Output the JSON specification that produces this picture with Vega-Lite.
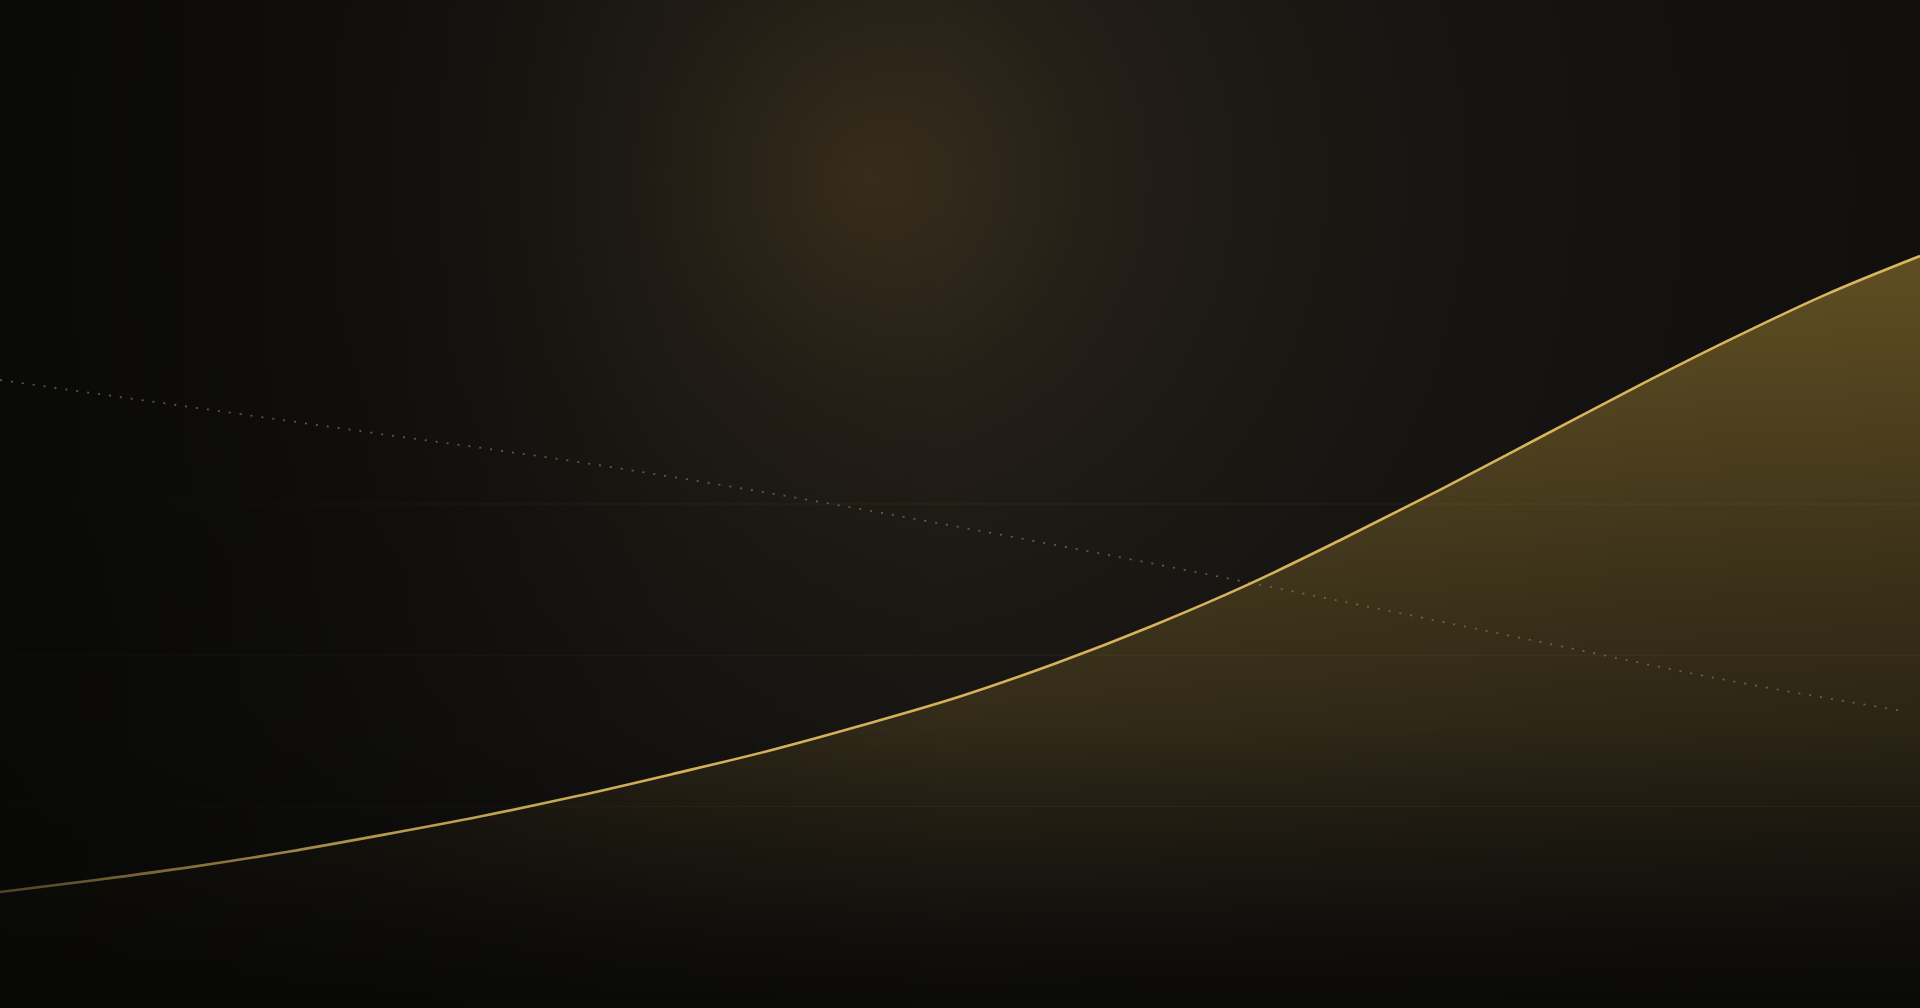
{
  "$schema": "https://vega.github.io/schema/vega-lite/v6.json",
  "width": 1920,
  "height": 1008,
  "autosize": {"type": "none"},
  "padding": 0,
  "background": "#0a0908",
  "config": {"view": {"stroke": null}},
  "datasets": {
    "trend": [
      {"t": 0, "v": 11.5},
      {"t": 5, "v": 12.7},
      {"t": 10, "v": 14.0},
      {"t": 15, "v": 15.5},
      {"t": 20, "v": 17.2},
      {"t": 25, "v": 19.0},
      {"t": 30, "v": 21.0},
      {"t": 35, "v": 23.2},
      {"t": 40, "v": 25.5},
      {"t": 45, "v": 28.1},
      {"t": 50, "v": 30.9},
      {"t": 55, "v": 34.2},
      {"t": 60, "v": 37.9},
      {"t": 65, "v": 42.0},
      {"t": 70, "v": 46.6},
      {"t": 75, "v": 51.4},
      {"t": 80, "v": 56.4},
      {"t": 85, "v": 61.4},
      {"t": 90, "v": 66.2},
      {"t": 95, "v": 70.7},
      {"t": 100, "v": 74.6}
    ],
    "baseline": [
      {"t": 0, "v": 62.3},
      {"t": 10, "v": 59.6},
      {"t": 20, "v": 56.9},
      {"t": 30, "v": 54.2},
      {"t": 40, "v": 51.1},
      {"t": 50, "v": 47.7},
      {"t": 60, "v": 44.1},
      {"t": 70, "v": 40.3},
      {"t": 80, "v": 36.4},
      {"t": 90, "v": 32.5},
      {"t": 99, "v": 29.5}
    ],
    "grid": [
      {"v": 20},
      {"v": 35},
      {"v": 50}
    ],
    "shade": [
      {"name": "backdrop"}
    ]
  },
  "layer": [
    {
      "data": {"name": "shade"},
      "mark": {
        "type": "rect",
        "fill": {
          "gradient": "radial",
          "x1": 0.4516, "y1": 0.33, "r1": 0,
          "x2": 0.4516, "y2": 0.33, "r2": 1,
          "stops": [
            {"offset": 0, "color": "#392e1c"},
            {"offset": 0.05, "color": "#30281a"},
            {"offset": 0.12, "color": "#241f17"},
            {"offset": 0.2, "color": "#1d1914"},
            {"offset": 0.3, "color": "#171512"},
            {"offset": 0.45, "color": "#121110"},
            {"offset": 0.6, "color": "#100f0e"},
            {"offset": 1, "color": "#0d0c0b"}
          ]
        }
      },
      "encoding": {}
    },
    {
      "data": {"name": "trend"},
      "mark": {
        "type": "area",
        "interpolate": "monotone",
        "fill": {
          "gradient": "linear",
          "x1": 0, "y1": 0, "x2": 0, "y2": 1,
          "stops": [
            {"offset": 0, "color": "rgba(205,165,60,0.42)"},
            {"offset": 0.45, "color": "rgba(205,165,60,0.21)"},
            {"offset": 0.85, "color": "rgba(205,165,60,0.06)"},
            {"offset": 1, "color": "rgba(205,165,60,0.01)"}
          ]
        }
      },
      "encoding": {
        "x": {"field": "t", "type": "quantitative", "scale": {"domain": [0, 100], "nice": false, "zero": false}, "axis": null},
        "y": {"field": "v", "type": "quantitative", "scale": {"domain": [0, 100], "nice": false}, "axis": null}
      }
    },
    {
      "data": {"name": "grid"},
      "mark": {"type": "rule", "stroke": "#d4b05a", "strokeOpacity": 0.08, "strokeWidth": 1},
      "encoding": {
        "y": {"field": "v", "type": "quantitative", "axis": null}
      }
    },
    {
      "data": {"name": "shade"},
      "mark": {
        "type": "rect",
        "fill": {
          "gradient": "linear",
          "x1": 0, "y1": 0, "x2": 1, "y2": 0,
          "stops": [
            {"offset": 0, "color": "rgba(6,6,5,0.7)"},
            {"offset": 0.18, "color": "rgba(6,6,5,0.45)"},
            {"offset": 0.35, "color": "rgba(6,6,5,0.15)"},
            {"offset": 0.5, "color": "rgba(6,6,5,0)"},
            {"offset": 1, "color": "rgba(6,6,5,0)"}
          ]
        }
      },
      "encoding": {}
    },
    {
      "data": {"name": "shade"},
      "mark": {
        "type": "rect",
        "fill": {
          "gradient": "linear",
          "x1": 0, "y1": 0, "x2": 0, "y2": 1,
          "stops": [
            {"offset": 0, "color": "rgba(6,6,5,0)"},
            {"offset": 0.72, "color": "rgba(6,6,5,0)"},
            {"offset": 0.87, "color": "rgba(6,6,5,0.3)"},
            {"offset": 1, "color": "rgba(6,6,5,0.7)"}
          ]
        }
      },
      "encoding": {}
    },
    {
      "data": {"name": "baseline"},
      "mark": {
        "type": "line",
        "interpolate": "monotone",
        "stroke": "#8a7f66",
        "strokeOpacity": 0.65,
        "strokeWidth": 1.8,
        "strokeDash": [2, 9]
      },
      "encoding": {
        "x": {"field": "t", "type": "quantitative", "axis": null},
        "y": {"field": "v", "type": "quantitative", "axis": null}
      }
    },
    {
      "data": {"name": "trend"},
      "mark": {
        "type": "line",
        "interpolate": "monotone",
        "strokeWidth": 2.6,
        "stroke": {
          "gradient": "linear",
          "x1": 0, "y1": 0, "x2": 1, "y2": 0,
          "stops": [
            {"offset": 0, "color": "rgba(212,176,90,0.35)"},
            {"offset": 0.2, "color": "rgba(212,176,90,0.85)"},
            {"offset": 0.35, "color": "#d4b05a"},
            {"offset": 1, "color": "#d9b65c"}
          ]
        }
      },
      "encoding": {
        "x": {"field": "t", "type": "quantitative", "axis": null},
        "y": {"field": "v", "type": "quantitative", "axis": null}
      }
    }
  ]
}
